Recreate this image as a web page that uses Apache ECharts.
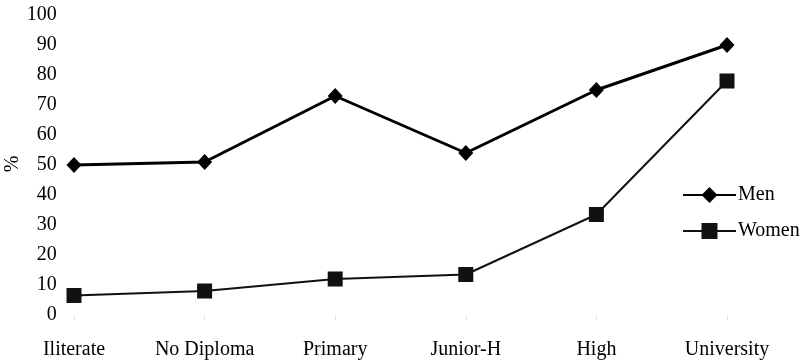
<!DOCTYPE html>
<html>
<head>
<meta charset="utf-8">
<script src="https://cdn.jsdelivr.net/npm/echarts@6/dist/echarts.min.js"></script>
<style>
html,body{margin:0;padding:0;background:#fff;}
#chart{width:806px;height:363px;}
</style>
</head>
<body>
<div id="chart"></div>
<script>
var categories = ['Iliterate', 'No Diploma', 'Primary', 'Junior-H', 'High', 'University'];
var menValues = [50, 51, 73, 54, 75, 90];
var womenValues = [6.5, 8, 12, 13.5, 33.5, 78];
var yTicks = [0, 10, 20, 30, 40, 50, 60, 70, 80, 90, 100];
var yAxisTitle = '%';

var font = '"Liberation Serif", "Times New Roman", serif';
var chart = echarts.init(document.getElementById('chart'), null, {renderer: 'canvas'});
chart.setOption({
  animation: false,
  backgroundColor: '#fff',
  grid: {left: 8.7, right: 13.7, top: 15, bottom: 48, containLabel: false, outerBoundsMode: 'none'},
  graphic: [{
    type: 'text',
    x: 13,
    y: 164,
    rotation: Math.PI / 2,
    style: {text: yAxisTitle, font: '20px ' + font, fill: '#000', align: 'center', verticalAlign: 'middle'}
  }],
  legend: {
    orient: 'vertical',
    left: 677,
    top: 180,
    itemWidth: 53,
    itemHeight: 20,
    itemGap: 16,
    textStyle: {fontFamily: font, fontSize: 20, color: '#000', padding: [0, 0, 0, -3]},
    data: ['Men', 'Women']
  },
  xAxis: {
    type: 'category',
    data: categories,
    boundaryGap: true,
    axisLine: {show: false},
    axisTick: {show: true, alignWithLabel: true, length: 5, lineStyle: {color: '#e4e4e4', width: 1}},
    axisLabel: {fontFamily: font, fontSize: 20, color: '#000', margin: 25, interval: 0},
    splitLine: {show: false}
  },
  yAxis: {
    type: 'value',
    min: yTicks[0],
    max: yTicks[yTicks.length - 1],
    interval: 10,
    offset: -56,
    axisLine: {show: false},
    axisTick: {show: false},
    splitLine: {show: false},
    axisLabel: {fontFamily: font, fontSize: 20, color: '#000', margin: 8}
  },
  series: [
    {
      name: 'Men',
      type: 'line',
      data: menValues,
      symbol: 'diamond',
      symbolSize: [15, 16],
      lineStyle: {color: '#000', width: 3},
      itemStyle: {color: '#000'}
    },
    {
      name: 'Women',
      type: 'line',
      data: womenValues,
      symbol: 'rect',
      symbolSize: 15,
      lineStyle: {color: '#111', width: 2},
      itemStyle: {color: '#111'}
    }
  ]
});
</script>
</body>
</html>
